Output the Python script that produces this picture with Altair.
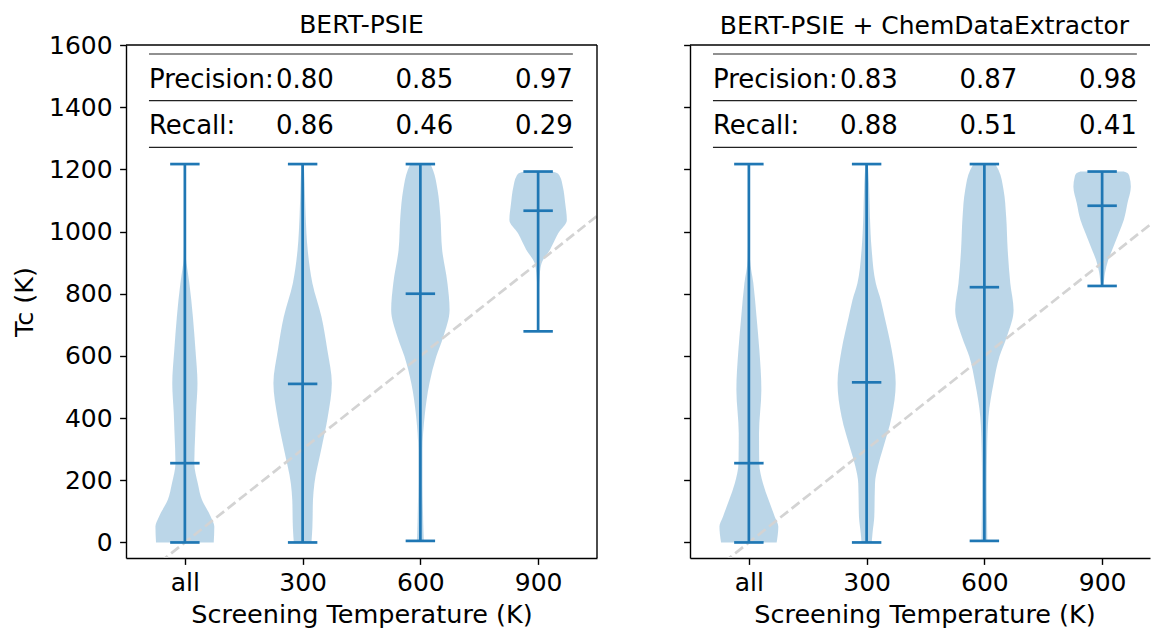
import altair as alt
import pandas as pd

FONT = "DejaVu Sans"
BLUE = "#1f77b4"

# ---- categories and ticks ----
groups = ["all", "300", "600", "900"]
positions = [1, 2, 3, 4]
y_ticks = [0, 200, 400, 600, 800, 1000, 1200, 1400, 1600]

# ---- violin outlines (Tc value, half width in category units) ----
L_ALL_TC = [0, 51, 83, 137, 190, 255, 351, 420, 512, 619, 726, 834, 887, 909, 1000, 1217]
L_ALL_W = [0.245, 0.25, 0.22, 0.145, 0.11, 0.08, 0.088, 0.095, 0.107, 0.09, 0.068, 0.038, 0.018, 0.01, 0.006, 0.004]
L_300_TC = [0, 50, 137, 190, 297, 405, 512, 619, 726, 834, 941, 1048, 1155, 1217]
L_300_W = [0.075, 0.083, 0.088, 0.10, 0.157, 0.214, 0.248, 0.21, 0.16, 0.083, 0.043, 0.026, 0.017, 0.01]
L_600_TC = [5, 30, 100, 190, 297, 405, 512, 598, 662, 748, 834, 941, 1048, 1134, 1198, 1217]
L_600_W = [0.03, 0.027, 0.022, 0.018, 0.018, 0.036, 0.077, 0.135, 0.195, 0.248, 0.23, 0.185, 0.17, 0.146, 0.107, 0.085]
L_900_TC = [679, 800, 866, 899, 941, 995, 1037, 1091, 1144, 1177, 1188, 1193]
L_900_W = [0.004, 0.006, 0.015, 0.03, 0.1, 0.172, 0.244, 0.23, 0.21, 0.185, 0.16, 0.12]

R_ALL_TC = [0, 51, 83, 137, 190, 255, 351, 490, 619, 726, 834, 909, 1000, 1217]
R_ALL_W = [0.236, 0.25, 0.22, 0.167, 0.12, 0.088, 0.086, 0.106, 0.089, 0.065, 0.038, 0.01, 0.006, 0.004]
R_300_TC = [0, 30, 83, 190, 245, 297, 405, 512, 619, 726, 780, 834, 941, 1048, 1155, 1217]
R_300_W = [0.043, 0.05, 0.065, 0.071, 0.096, 0.135, 0.213, 0.247, 0.213, 0.152, 0.12, 0.078, 0.043, 0.028, 0.02, 0.01]
R_600_TC = [5, 30, 190, 297, 405, 512, 598, 662, 748, 834, 941, 1048, 1134, 1198, 1217]
R_600_W = [0.025, 0.024, 0.02, 0.023, 0.035, 0.078, 0.128, 0.191, 0.248, 0.22, 0.198, 0.185, 0.163, 0.12, 0.092]
R_900_TC = [825, 834, 866, 909, 941, 995, 1037, 1091, 1144, 1177, 1188, 1193]
R_900_W = [0.006, 0.012, 0.024, 0.052, 0.085, 0.142, 0.184, 0.215, 0.244, 0.232, 0.215, 0.185]

# ---- extrema and medians ----
L_MIN = [0, 0, 5, 679]
L_MAX = [1217, 1217, 1217, 1193]
L_MED = [255, 510, 800, 1067]
R_MIN = [0, 0, 5, 825]
R_MAX = [1217, 1217, 1217, 1193]
R_MED = [255, 515, 821, 1083]

# ---- precision / recall table ----
row_names = ["Precision:", "Recall:"]
L_PRECISION = ["0.80", "0.85", "0.97"]
L_RECALL = ["0.86", "0.46", "0.29"]
R_PRECISION = ["0.83", "0.87", "0.98"]
R_RECALL = ["0.88", "0.51", "0.41"]

# reference line: Tc equal to the screening temperature
ref_x = [0.5, 4.5]
ref_y = [-150, 1050]

# ---- layout ----
W_LEFT, W_RIGHT, H = 471, 460, 513
PX_PER_UNIT = W_LEFT / 4.0
Y_DOMAIN = [-50, 1600]
CAP_HALF = 0.125
TABLE_X0, TABLE_X1 = 0.695, 4.295
COL_RIGHT = [2.265, 3.28, 4.295]
ROW_BASE = [1461, 1313]
RULE_Y = [1571, 1421, 1271]
LW = 2.7


def panel(profiles, mins, maxs, meds, prec, rec, title, width, show_labels, title_dx,
          title_offset, xtitle_x):
    x_domain = [0.5, 0.5 + width / PX_PER_UNIT]
    xs = alt.Scale(domain=x_domain, nice=False, zero=False)
    ys = alt.Scale(domain=Y_DOMAIN, nice=False, zero=False)
    label_expr = "[" + ",".join("'%s'" % g for g in groups) + "][datum.value - 1]"
    xaxis = alt.Axis(values=positions, labelExpr=label_expr, title="Screening Temperature (K)",
                     titleX=xtitle_x, labelPadding=6, titlePadding=7, tickSize=6.4)
    yaxis = alt.Axis(values=y_ticks, format="d", labels=show_labels, tickSize=6.4, labelPadding=7.5,
                     title="Tc (K)" if show_labels else None, titlePadding=11)

    def X(field):
        return alt.X(field, type="quantitative", scale=xs, axis=xaxis)

    def Y(field):
        return alt.Y(field, type="quantitative", scale=ys, axis=yaxis)

    rows = []
    for g, p, (tc, hw) in zip(groups, positions, profiles):
        for t, w in zip(tc, hw):
            rows.append({"group": g, "tc": t, "lo": p - w, "hi": p + w})
    body = pd.DataFrame(rows)

    stats = pd.DataFrame({"group": groups, "pos": positions, "mn": mins, "mx": maxs, "md": meds})
    caps = []
    for _, r in stats.iterrows():
        for v in (r.mn, r.mx, r.md):
            caps.append({"lo": r.pos - CAP_HALF, "hi": r.pos + CAP_HALF, "v": v})
    caps = pd.DataFrame(caps)

    ref = pd.DataFrame({"x": ref_x, "y": ref_y})

    table_rules = pd.DataFrame({"x0": TABLE_X0, "x1": TABLE_X1, "y": RULE_Y})
    table_names = pd.DataFrame({"x": TABLE_X0, "y": ROW_BASE, "t": row_names})
    vals = []
    for row, vlist in zip(ROW_BASE, (prec, rec)):
        for cx, v in zip(COL_RIGHT, vlist):
            vals.append({"x": cx, "y": row, "t": v})
    table_vals = pd.DataFrame(vals)

    violins = alt.Chart(body).mark_area(
        orient="horizontal", interpolate="monotone", color=BLUE, opacity=0.3, strokeWidth=0
    ).encode(x=X("lo"), x2="hi", y=Y("tc"), detail="group:N")

    refline = alt.Chart(ref).mark_line(
        clip=True, color="#d3d3d3", strokeWidth=LW, strokeDash=[10, 4.4]
    ).encode(x=X("x"), y=Y("y"))

    whiskers = alt.Chart(stats).mark_rule(color=BLUE, strokeWidth=LW).encode(
        x=X("pos"), y=Y("mn"), y2="mx")
    capmarks = alt.Chart(caps).mark_rule(color=BLUE, strokeWidth=LW).encode(
        x=X("lo"), x2="hi", y=Y("v"))

    trules = alt.Chart(table_rules).mark_rule(color="#222222", strokeWidth=1.2).encode(
        x=X("x0"), x2="x1", y=Y("y"))
    tnames = alt.Chart(table_names).mark_text(
        align="left", baseline="alphabetic", font=FONT, fontSize=26, color="black"
    ).encode(x=X("x"), y=Y("y"), text="t:N")
    tvals = alt.Chart(table_vals).mark_text(
        align="right", baseline="alphabetic", font=FONT, fontSize=26, color="black"
    ).encode(x=X("x"), y=Y("y"), text="t:N")

    frame_df = pd.DataFrame({"k": [0]})
    top = alt.Chart(frame_df).mark_rule(color="black", strokeWidth=1.4).encode(
        x=alt.value(0), x2=alt.value(width), y=alt.value(0))
    layers = [violins, refline, whiskers, capmarks, trules, tnames, tvals, top]
    if show_labels:
        right = alt.Chart(frame_df).mark_rule(color="black", strokeWidth=1.4).encode(
            x=alt.value(width), y=alt.value(0), y2=alt.value(H))
        layers.append(right)

    return alt.layer(*layers).properties(
        width=width, height=H,
        title=alt.TitleParams(title, fontSize=25, font=FONT, fontWeight="normal",
                              color="black", frame="group", offset=title_offset, dx=title_dx),
    )


left = panel([(L_ALL_TC, L_ALL_W), (L_300_TC, L_300_W), (L_600_TC, L_600_W), (L_900_TC, L_900_W)],
             L_MIN, L_MAX, L_MED, L_PRECISION, L_RECALL, "BERT-PSIE", W_LEFT, True, 0, -5,
             W_LEFT / 2)
right = panel([(R_ALL_TC, R_ALL_W), (R_300_TC, R_300_W), (R_600_TC, R_600_W), (R_900_TC, R_900_W)],
              R_MIN, R_MAX, R_MED, R_PRECISION, R_RECALL, "BERT-PSIE + ChemDataExtractor",
              W_RIGHT, False, 4.5, 5, 234.5)

chart = alt.hconcat(left, right, spacing=84).properties(
    padding={"left": 12, "top": 13, "right": 0, "bottom": 0},
    background="white",
).configure_view(stroke=None).configure_axis(
    grid=False, domainColor="black", domainWidth=1.4, tickColor="black", tickWidth=1.4,
    labelFont=FONT, labelFontSize=25, labelColor="black",
    titleFont=FONT, titleFontSize=25.5, titleFontWeight="normal", titleColor="black",
)

chart.save("out.html", embed_options={"renderer": "svg", "actions": False})
